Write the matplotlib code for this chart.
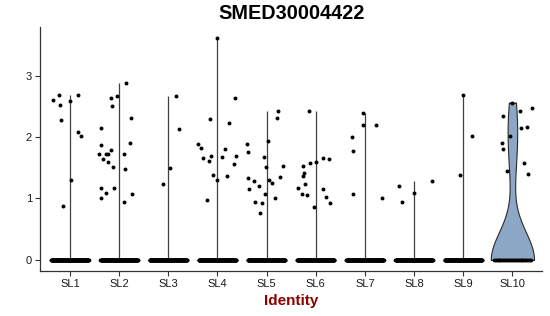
import matplotlib

matplotlib.use("Agg")

import matplotlib.pyplot as plt
import numpy as np

plt.rcParams["font.family"] = ["Liberation Sans", "DejaVu Sans"]

identities = ["SL1", "SL2", "SL3", "SL4", "SL5", "SL6", "SL7", "SL8", "SL9", "SL10"]

# expression of the non-zero cells
sl1 = [2.61, 2.68, 2.52, 2.28, 2.59, 2.69, 2.08, 2.01, 1.30, 0.88]
sl2 = [2.88, 2.63, 2.67, 2.50, 2.31, 2.15, 1.87, 1.90, 1.73, 1.73, 1.73, 1.79,
       1.73, 1.64, 1.60, 1.52, 1.48, 1.17, 1.17, 1.09, 1.08, 1.01, 0.94]
sl3 = [2.66, 2.13, 1.50, 1.24]
sl4 = [3.61, 2.64, 2.30, 2.22, 1.89, 1.82, 1.81, 1.66, 1.69, 1.61, 1.68, 1.69,
       1.56, 1.39, 1.30, 1.37, 0.97]
sl5 = [2.42, 2.31, 1.89, 1.76, 1.93, 1.67, 1.51, 1.53, 1.33, 1.28, 1.21, 1.15,
       1.30, 1.25, 1.35, 1.07, 0.94, 0.93, 1.00, 0.77]
sl6 = [2.43, 1.53, 1.57, 1.60, 1.66, 1.65, 1.41, 1.37, 1.23, 1.17, 1.08, 1.06,
       1.15, 1.02, 0.93, 0.86]
sl7 = [2.39, 2.19, 2.19, 2.00, 1.78, 1.07, 1.01]
sl8 = [1.28, 1.21, 0.95, 1.09]
sl9 = [2.69, 2.02, 1.39]
sl10 = [2.56, 2.42, 2.47, 2.35, 2.15, 2.17, 2.01, 1.90, 1.80, 1.57, 1.45, 1.40]

# horizontal jitter of those cells (category units), as seen in the picture
sl1_jit = [-0.35, -0.22, -0.20, -0.19, 0.01, 0.16, 0.17, 0.22, 0.02, -0.15]
sl2_jit = [0.14, -0.17, -0.04, -0.15, 0.24, -0.37, -0.36, 0.23, -0.40, -0.26, -0.22, -0.17,
           0.10, -0.32, -0.22, -0.13, 0.13, -0.37, -0.10, -0.27, 0.26, -0.37, 0.10]
sl3_jit = [0.16, 0.21, 0.03, -0.11]
sl4_jit = [-0.01, 0.36, -0.16, 0.24, -0.40, -0.33, 0.15, -0.29, -0.14, -0.18, 0.10, 0.38,
           0.33, -0.08, -0.01, 0.19, -0.21]
sl5_jit = [0.24, 0.22, -0.39, -0.37, 0.03, -0.05, -0.01, 0.33, -0.37, -0.26, -0.16, -0.35,
           0.04, 0.11, 0.28, -0.04, -0.23, -0.10, 0.18, -0.14]
sl6_jit = [-0.13, -0.26, -0.11, 0.00, 0.14, 0.27, -0.23, -0.25, -0.22, -0.37, -0.28, -0.17,
           0.14, 0.21, 0.28, -0.03]
sl7_jit = [-0.03, -0.04, 0.22, -0.27, -0.25, -0.24, 0.35]
sl8_jit = [0.36, -0.30, -0.25, 0.00]
sl9_jit = [0.00, 0.17, -0.06]
sl10_jit = [-0.01, 0.15, 0.40, -0.20, 0.17, 0.29, -0.05, -0.22, -0.20, 0.24, -0.12, 0.32]

# estimated number of cells with zero expression per identity
n_zero = [200, 200, 200, 200, 200, 200, 200, 200, 200, 40]

groups = [sl1, sl2, sl3, sl4, sl5, sl6, sl7, sl8, sl9, sl10]
jitters = [sl1_jit, sl2_jit, sl3_jit, sl4_jit, sl5_jit, sl6_jit, sl7_jit, sl8_jit, sl9_jit, sl10_jit]

fig = plt.figure(figsize=(5.5, 3.16), dpi=100)
ax = fig.add_axes([40.4 / 550, 45 / 316, 501.5 / 550, 244 / 316])

for i, (vals, jit, nz) in enumerate(zip(groups, jitters, n_zero)):
    pos = i + 1
    data = np.array([0.0] * nz + vals)
    if i == len(groups) - 1:
        # real violin: gaussian kernel density, trimmed to the data range
        bw = 0.46
        grid = np.linspace(data.min(), data.max(), 300)
        dens = np.exp(-0.5 * ((grid[:, None] - data[None, :]) / bw) ** 2).sum(axis=1)
        half = 0.44 * dens / dens.max()
        ax.fill_betweenx(grid, pos - half, pos + half, facecolor="#8DA7C6",
                         edgecolor="#2b2b2b", linewidth=0.8, zorder=2)
        ax.plot([pos - half[-1], pos + half[-1]], [grid[-1], grid[-1]],
                color="#2b2b2b", linewidth=0.8, zorder=2)
    else:
        # mostly zeros: violin collapses to a thin line
        ax.vlines(pos, 0, data.max(), color="#404040", linewidth=0.9, zorder=2)

    zx = pos + np.linspace(-0.38, 0.38, nz)
    ax.scatter(zx, np.zeros(nz), s=7, color="black", linewidths=0, zorder=3)
    ax.scatter(pos + np.array(jit), vals, s=8, color="black", linewidths=0, zorder=3)

ax.set_xlim(0.4, 10.6)
ax.set_ylim(-0.18, 3.79)
ax.set_xticks(range(1, len(identities) + 1))
ax.set_xticklabels(identities)
ax.set_yticks([0, 1, 2, 3])

for side in ("top", "right"):
    ax.spines[side].set_visible(False)
for side in ("left", "bottom"):
    ax.spines[side].set_color("#333333")
    ax.spines[side].set_linewidth(0.9)
ax.tick_params(axis="both", length=3.5, width=0.8, color="#333333",
               labelsize=8, labelcolor="#1a1a1a", pad=2.5)

ax.set_xlabel("Identity", fontsize=11, fontweight="bold", color="#8B0000", labelpad=3)
ax.set_title("SMED30004422", fontsize=14.3, fontweight="bold", pad=6)

fig.savefig("out.png", dpi=100)
